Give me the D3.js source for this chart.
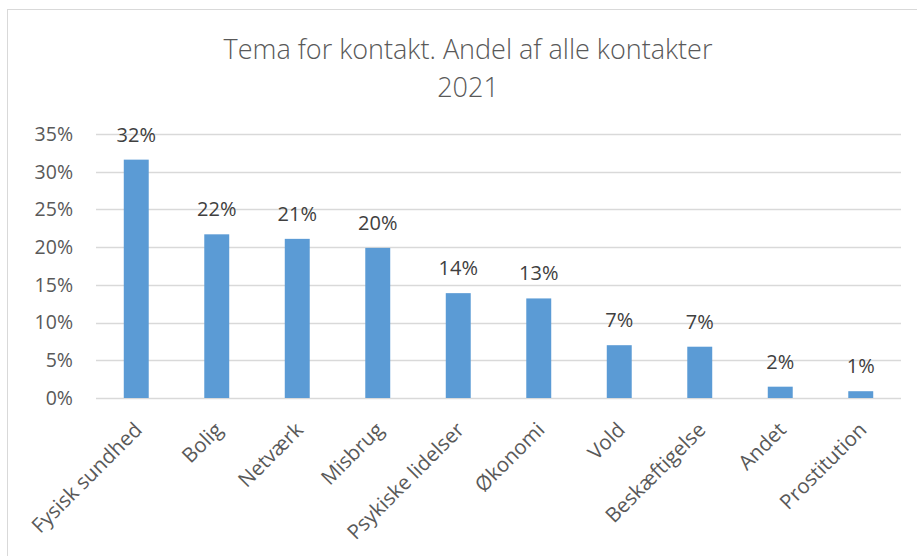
<!DOCTYPE html>
<html>
<head>
<meta charset="utf-8">
<script src="https://cdn.jsdelivr.net/npm/d3@7"></script>
<style>
  body { margin: 0; background: #fff; }
  svg { display: block; font-family: "Open Sans", "Noto Sans", sans-serif; }
</style>
</head>
<body>
<svg width="917" height="556"></svg>
<script>
const categories = ["Fysisk sundhed", "Bolig", "Netværk", "Misbrug", "Psykiske lidelser",
	"Økonomi", "Vold", "Beskæftigelse", "Andet", "Prostitution"];
const shares = [31.6, 21.7, 21.1, 19.9, 13.9, 13.2, 7.0, 6.8, 1.5, 0.9];
const yTicks = [0, 5, 10, 15, 20, 25, 30, 35];

const svg = d3.select("svg");

// chart frame
svg.append("rect")
	.attr("x", 7.5).attr("y", 9.5)
	.attr("width", 920).attr("height", 560)
	.attr("fill", "none").attr("stroke", "#d9d9d9");

const margin = { left: 96, right: 16, top: 134, bottom: 158 };
const width = 917 - margin.left - margin.right;
const height = 556 - margin.top - margin.bottom;

const g = svg.append("g").attr("transform", `translate(${margin.left},${margin.top})`);

const x = d3.scaleBand().domain(categories).range([0, width]).paddingInner(0.69).paddingOuter(0.345);
const y = d3.scaleLinear().domain([0, 35]).range([height, 0]);

// title
svg.append("text")
	.attr("x", 468).attr("y", 59)
	.attr("text-anchor", "middle")
	.attr("fill", "#595959")
	.attr("font-size", 27)
	.attr("font-weight", 300)
	.text("Tema for kontakt. Andel af alle kontakter");
svg.append("text")
	.attr("x", 468).attr("y", 97)
	.attr("text-anchor", "middle")
	.attr("fill", "#595959")
	.attr("font-size", 27)
	.attr("font-weight", 300)
	.text("2021");

// gridlines
g.selectAll(".grid")
	.data(yTicks)
	.enter()
	.append("line")
	.attr("x1", 0).attr("x2", width)
	.attr("y1", (d) => Math.round(y(d)) + 0.5)
	.attr("y2", (d) => Math.round(y(d)) + 0.5)
	.attr("stroke", "#d9d9d9")
	.attr("stroke-width", 1.3);

// y labels
g.selectAll(".ylab")
	.data(yTicks)
	.enter()
	.append("text")
	.attr("x", -23)
	.attr("y", (d) => y(d))
	.attr("dy", "0.35em")
	.attr("text-anchor", "end")
	.attr("fill", "#595959")
	.attr("font-size", 19.5)
	.text((d) => d + "%");

// bars
g.selectAll(".bar")
	.data(categories)
	.enter()
	.append("rect")
	.attr("x", (d) => x(d))
	.attr("width", x.bandwidth())
	.attr("y", (d, i) => y(shares[i]))
	.attr("height", (d, i) => height - y(shares[i]))
	.attr("fill", "#5b9bd5");

// value labels
g.selectAll(".val")
	.data(categories)
	.enter()
	.append("text")
	.attr("x", (d) => x(d) + x.bandwidth() / 2)
	.attr("y", (d, i) => y(shares[i]) - 18)
	.attr("text-anchor", "middle")
	.attr("fill", "#404040")
	.attr("font-size", 20)
	.text((d, i) => Math.round(shares[i]) + "%");

// x labels
g.selectAll(".xlab")
	.data(categories)
	.enter()
	.append("text")
	.attr("transform", (d) => `translate(${x(d) + x.bandwidth() / 2 + 2},${height + 28}) rotate(-45)`)
	.attr("text-anchor", "end")
	.attr("dy", "0.35em")
	.attr("fill", "#595959")
	.attr("font-size", 20.5)
	.text((d) => d);
</script>
</body>
</html>
